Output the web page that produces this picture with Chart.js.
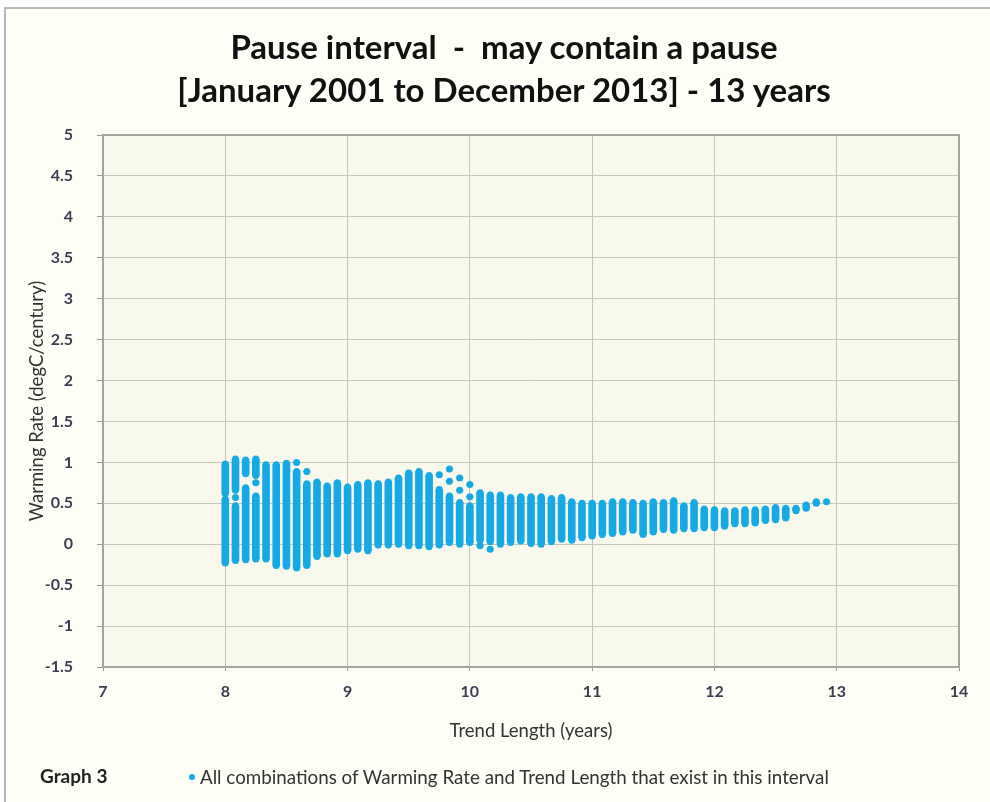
<!DOCTYPE html>
<html>
<head>
<meta charset="utf-8">
<script src="https://cdn.jsdelivr.net/npm/chart.js@4.4.1/dist/chart.umd.min.js"></script>
<style>
  html, body { margin: 0; padding: 0; background: #ffffff; }
  #wrap { position: relative; width: 990px; height: 802px; overflow: hidden; }
  #panel { position: absolute; left: 4px; top: 7px; width: 1000px; height: 820px;
           border: 2px solid #b8b8b8; background: #fefef6; }
  #chart { position: absolute; left: 0; top: 0; }
  .title { position: absolute; left: 0; width: 1008px; text-align: center; white-space: pre;
           font-family: Lato, sans-serif; font-weight: bold; font-size: 33px; line-height: 40px; color: #111; }
  #graphNo { position: absolute; left: 40px; top: 764px; font-family: Lato, sans-serif;
             font-weight: bold; font-size: 19px; color: #222; }
  #legend { position: absolute; left: 189px; top: 765px; font-family: Lato, sans-serif;
            font-size: 18.8px; color: #333; white-space: nowrap; }
  #legend i { display: inline-block; width: 6px; height: 6px; border-radius: 3px;
              background: #16a9e4; margin-right: 5px; vertical-align: 4px; }
</style>
</head>
<body>
<div id="wrap">
  <div id="panel"></div>
  <canvas id="chart" width="990" height="802"></canvas>
  <div class="title" style="top:26px">Pause interval  -  may contain a pause</div>
  <div class="title" style="top:69px">[January 2001 to December 2013] - 13 years</div>
  <div id="graphNo">Graph 3</div>
  <div id="legend"><i></i>All combinations of Warming Rate and Trend Length that exist in this interval</div>
</div>
<script>
// each run = a stack of dots in one column (trend length in months), from runLow to runHigh (degC/century)
const runMonths = [
  96, 96,
  97, 97, 97,
  98, 98,
  99, 99, 99,
  100, 101, 102,
  103, 103,
  104, 104,
  105, 106, 107, 108, 109, 110, 111, 112, 113, 114, 115, 116,
  117, 117,
  118, 118, 118,
  119, 119, 119,
  120, 120, 120,
  121, 121,
  122, 122,
  123, 124, 125, 126, 127, 128, 129, 130, 131, 132, 133, 134, 135, 136, 137, 138, 139,
  140, 141, 142, 143, 144, 145, 146, 147, 148, 149, 150, 151, 152, 153, 154, 155
];
const runLow = [
  -0.23, 0.62,
  -0.20, 0.57, 0.66,
  -0.19, 0.86,
  -0.18, 0.75, 0.84,
  -0.18, -0.26, -0.27,
  -0.29, 1.00,
  -0.26, 0.89,
  -0.15, -0.12, -0.12, -0.08, -0.06, -0.08, -0.01, -0.01, 0.00, -0.02, -0.02, -0.03,
  -0.01, 0.85,
  0.02, 0.77, 0.92,
  0.00, 0.66, 0.81,
  0.02, 0.58, 0.73,
  -0.02, 0.05,
  -0.06, 0.03,
  0.00, 0.02, 0.04, 0.01, 0.00, 0.03, 0.06, 0.05, 0.08, 0.10, 0.12, 0.13, 0.15, 0.17, 0.12, 0.15, 0.18,
  0.17, 0.19, 0.19, 0.20, 0.20, 0.22, 0.25, 0.25, 0.26, 0.29, 0.30, 0.32, 0.41, 0.44, 0.50, 0.52
];
const runHigh = [
  0.55, 0.98,
  0.47, 0.57, 1.04,
  0.69, 1.03,
  0.59, 0.75, 1.04,
  0.97, 0.97, 0.99,
  0.89, 1.00,
  0.74, 0.89,
  0.76, 0.71, 0.75, 0.70, 0.73, 0.75, 0.74, 0.76, 0.81, 0.87, 0.89, 0.84,
  0.67, 0.85,
  0.59, 0.77, 0.92,
  0.51, 0.66, 0.81,
  0.47, 0.58, 0.73,
  -0.02, 0.63,
  -0.06, 0.60,
  0.60, 0.57, 0.58, 0.58, 0.58, 0.56, 0.57, 0.52, 0.50, 0.50, 0.50, 0.52, 0.52, 0.51, 0.50, 0.52, 0.51,
  0.53, 0.47, 0.51, 0.43, 0.42, 0.41, 0.41, 0.42, 0.42, 0.43, 0.45, 0.44, 0.44, 0.48, 0.52, 0.52
];
const xTicks = [7, 8, 9, 10, 11, 12, 13, 14];
const yTicks = [-1.5, -1, -0.5, 0, 0.5, 1, 1.5, 2, 2.5, 3, 3.5, 4, 4.5, 5];

const dotColor = '#16a9e4';

const barData = runMonths.map((m, i) => ({ x: m / 12, y: [runLow[i], runHigh[i]] }));
const dotData = [];
runMonths.forEach((m, i) => {
  dotData.push({ x: m / 12, y: runLow[i] });
  if (runHigh[i] !== runLow[i]) dotData.push({ x: m / 12, y: runHigh[i] });
});

const plotBg = {
  id: 'plotBg',
  beforeDraw(chart) {
    const { ctx, chartArea: a } = chart;
    ctx.save();
    ctx.fillStyle = '#f8f8ec';
    ctx.fillRect(a.left, a.top, a.right - a.left, a.bottom - a.top);
    ctx.restore();
  },
  afterDraw(chart) {
    const { ctx, chartArea: a } = chart;
    ctx.save();
    ctx.strokeStyle = '#a5a5a0';
    ctx.lineWidth = 2;
    ctx.strokeRect(a.left, a.top, a.right - a.left, a.bottom - a.top);
    ctx.restore();
  }
};

const tickFont = { family: 'Lato, sans-serif', size: 16, weight: 'bold' };
const axisTitleFont = { family: 'Lato, sans-serif', size: 18.5 };

new Chart(document.getElementById('chart'), {
  type: 'scatter',
  data: {
    datasets: [
      {
        type: 'bar',
        data: barData,
        backgroundColor: dotColor,
        borderWidth: 0,
        barThickness: 7,
        grouped: false
      },
      {
        type: 'scatter',
        data: dotData,
        backgroundColor: dotColor,
        borderWidth: 0,
        pointRadius: 3.5,
        pointHoverRadius: 3.5
      }
    ]
  },
  options: {
    responsive: false,
    animation: false,
    layout: { padding: { left: 22, right: 31, top: 135, bottom: 56 } },
    plugins: { legend: { display: false }, tooltip: { enabled: false } },
    scales: {
      x: {
        type: 'linear',
        min: xTicks[0], max: xTicks[xTicks.length - 1],
        offset: false,
        afterBuildTicks: s => { s.ticks = xTicks.map(v => ({ value: v })); },
        afterFit: s => { s.height = 79; },
        grid: { color: '#c6c6b8', tickColor: '#9a9a94', tickLength: 4, offset: false },
        border: { color: '#8f8f8a', width: 1.5 },
        ticks: { font: tickFont, color: '#3d3d52', padding: 11, maxRotation: 0 },
        title: { display: true, text: 'Trend Length (years)', font: axisTitleFont, color: '#333' }
      },
      y: {
        min: yTicks[0], max: yTicks[yTicks.length - 1],
        afterBuildTicks: s => { s.ticks = yTicks.map(v => ({ value: v })); },
        afterFit: s => { s.width = 81; },
        grid: { color: '#c6c6b8', tickColor: '#9a9a94', tickLength: 6 },
        border: { color: '#8f8f8a', width: 1.5 },
        ticks: { font: tickFont, color: '#3d3d52', padding: 24, callback: v => String(v) },
        title: { display: true, text: 'Warming Rate (degC/century)', font: axisTitleFont, color: '#333' }
      }
    }
  },
  plugins: [plotBg]
});
</script>
</body>
</html>
